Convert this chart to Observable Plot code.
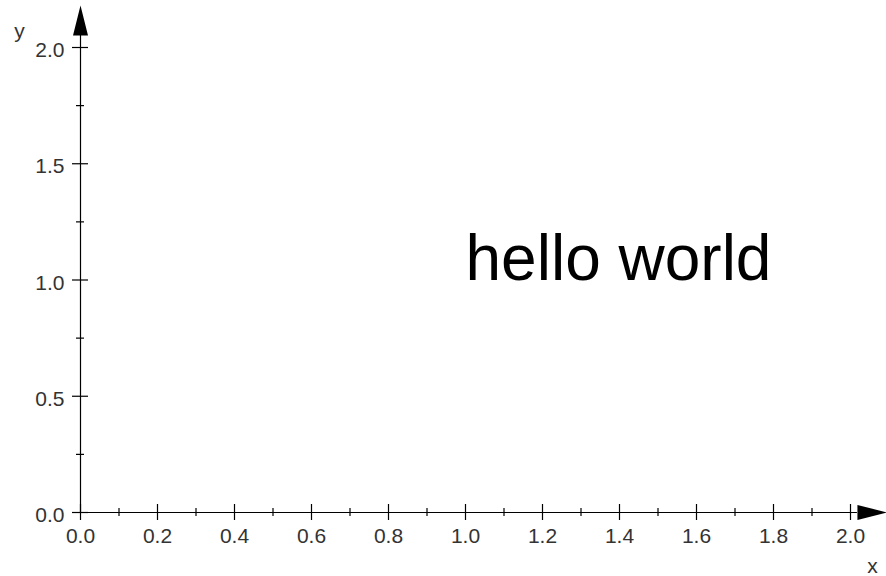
<!DOCTYPE html>
<html>
<head>
<meta charset="utf-8">
<script src="https://cdn.jsdelivr.net/npm/d3@7"></script>
<script src="https://cdn.jsdelivr.net/npm/@observablehq/plot@0.6"></script>
<style>
  html, body { margin: 0; padding: 0; background: #fff; }
  #chart svg { display: block; }
</style>
</head>
<body>
<div id="chart"></div>
<script>
// ---- data ----
const xMajor = [0.0, 0.2, 0.4, 0.6, 0.8, 1.0, 1.2, 1.4, 1.6, 1.8, 2.0];
const xMinor = [0.1, 0.3, 0.5, 0.7, 0.9, 1.1, 1.3, 1.5, 1.7, 1.9];
const yMajor = [0.0, 0.5, 1.0, 1.5, 2.0];
const yMinor = [0.25, 0.75, 1.25, 1.75];
const xAxisEnd = 2.018;   // where the x-axis arrowhead starts
const yAxisEnd = 2.052;   // where the y-axis arrowhead starts
const labels = [{x: 1.0, y: 1.0, text: "hello world"}];
const xAxisTitle = "x";
const yAxisTitle = "y";

const FONT = "'Liberation Sans', Arial, Helvetica, sans-serif";

// filled arrowhead symbol pointing up (rotated for x axis)
const arrowHead = {
  draw(ctx) {
    ctx.moveTo(-7.5, 0);
    ctx.lineTo(0, -30);
    ctx.lineTo(7.5, 0);
    ctx.closePath();
  }
};

const chart = Plot.plot({
  width: 886,
  height: 576,
  marginLeft: 80,
  marginRight: 36,
  marginTop: 47,
  marginBottom: 64,
  style: {background: "#fff", fontFamily: FONT},
  x: {domain: [0, 2], label: null},
  y: {domain: [0, 2], label: null},
  marks: [
    // axis lines
    Plot.ruleY([0], {x1: 0, x2: xAxisEnd, stroke: "black", strokeWidth: 1.2}),
    Plot.ruleX([0], {y1: 0, y2: yAxisEnd, stroke: "black", strokeWidth: 1.2}),
    // ticks crossing the axes
    Plot.ruleX(xMajor, {x: d => d, y1: 0, y2: 0, insetTop: -8, insetBottom: -8, stroke: "black", strokeWidth: 1.2}),
    Plot.ruleX(xMinor, {x: d => d, y1: 0, y2: 0, insetTop: -4, insetBottom: -4, stroke: "black", strokeWidth: 1.2}),
    Plot.ruleY(yMajor, {y: d => d, x1: 0, x2: 0, insetLeft: -8, insetRight: -8, stroke: "black", strokeWidth: 1.2}),
    Plot.ruleY(yMinor, {y: d => d, x1: 0, x2: 0, insetLeft: -4, insetRight: -4, stroke: "black", strokeWidth: 1.2}),
    // arrowheads
    Plot.dot([0], {x: xAxisEnd, y: 0, symbol: arrowHead, rotate: 90, fill: "black", stroke: "none"}),
    Plot.dot([0], {x: 0, y: yAxisEnd, symbol: arrowHead, rotate: 0, fill: "black", stroke: "none"}),
    // tick labels
    Plot.axisX(xMajor, {anchor: "bottom", tickSize: 0, tickPadding: 16, tickFormat: d3.format(".1f"),
      fontSize: 21, fill: "#333", label: null}),
    Plot.axisY(yMajor, {anchor: "left", tickSize: 0, tickPadding: 16, tickFormat: d3.format(".1f"),
      fontSize: 21, fill: "#333", dy: 3, label: null}),
    // axis titles
    Plot.text([xAxisTitle], {frameAnchor: "bottom-right", text: d => d, dx: 22, dy: 60,
      textAnchor: "middle", lineAnchor: "bottom", fontSize: 21, fill: "#333"}),
    Plot.text([yAxisTitle], {frameAnchor: "top-left", text: d => d, dx: -61, dy: -10,
      textAnchor: "middle", lineAnchor: "bottom", fontSize: 21, fill: "#333"}),
    // annotation
    Plot.text(labels, {x: "x", y: "y", text: "text", textAnchor: "start", lineAnchor: "bottom",
      fontSize: 64, fill: "black"})
  ]
});

document.getElementById("chart").appendChild(chart);
</script>
</body>
</html>
